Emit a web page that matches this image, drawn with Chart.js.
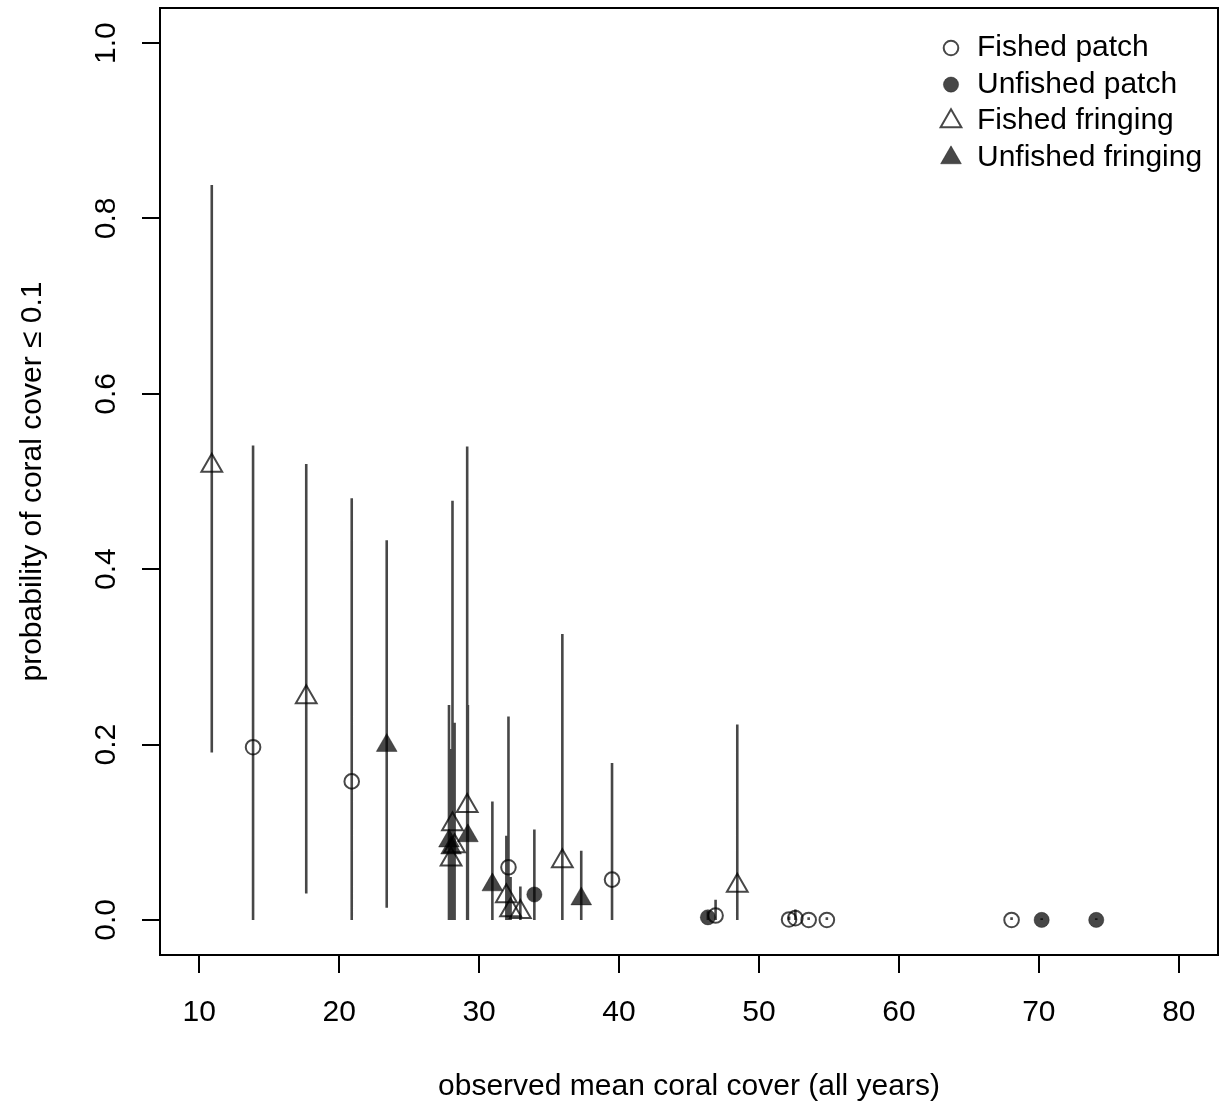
<!DOCTYPE html>
<html>
<head>
<meta charset="utf-8">
<title>Coral cover probability</title>
<script src="https://cdn.jsdelivr.net/npm/chart.js@4.4.1/dist/chart.umd.min.js"></script>
<style>
    html, body { margin: 0; padding: 0; background: #fff; }
    #wrap { width: 1221px; height: 1107px; }
</style>
</head>
<body>
<div id="wrap"><canvas id="coverChart" width="1221" height="1107"></canvas></div>
<script>
// Axis ticks
const xTicks = [10, 20, 30, 40, 50, 60, 70, 80];
const yTicks = [0, 0.2, 0.4, 0.6, 0.8, 1];

// Fished patch reefs: mean cover, probability, interval low / high
const fpCover = [13.85, 20.9, 32.1, 39.5, 46.9, 52.15, 52.6, 53.55, 54.85, 68.05];
const fpProb  = [0.197, 0.158, 0.060, 0.046, 0.005, 0.0005, 0.002, 0.0, 0.0, 0.0];
const fpLow   = [0, 0, 0, 0, 0, 0, 0, 0, 0, 0];
const fpHigh  = [0.541, 0.481, 0.232, 0.179, 0.023, 0.004, 0.012, 0.003, 0.003, 0.003];

// Unfished patch reefs
const upCover = [33.95, 46.35, 70.2, 74.1];
const upProb  = [0.029, 0.003, 0.0, 0.0];
const upLow   = [0, 0, 0, 0];
const upHigh  = [0.103, 0.010, 0.002, 0.002];

// Fished fringing reefs
const ffCover = [10.9, 17.65, 28.1, 28.25, 28.0, 29.15, 31.95, 32.25, 32.95, 35.95, 48.45];
const ffProb  = [0.518, 0.254, 0.109, 0.084, 0.069, 0.130, 0.027, 0.011, 0.009, 0.067, 0.039];
const ffLow   = [0.191, 0.030, 0, 0, 0, 0, 0, 0, 0, 0, 0];
const ffHigh  = [0.838, 0.520, 0.478, 0.225, 0.145, 0.540, 0.096, 0.049, 0.038, 0.326, 0.223];

// Unfished fringing reefs
const ufCover = [23.4, 27.85, 28.0, 29.2, 30.95, 37.3];
const ufProb  = [0.199, 0.090, 0.082, 0.096, 0.040, 0.024];
const ufLow   = [0.014, 0, 0, 0, 0, 0];
const ufHigh  = [0.433, 0.245, 0.195, 0.245, 0.135, 0.079];

const FONT = '"Liberation Sans", Arial, Helvetica, sans-serif';
const INK = 'rgba(0, 0, 0, 0.72)';
const CIRCLE_R = 7.3;
const TRIANGLE_R = 12;

function toPoints(xs, ys) {
    return xs.map((x, i) => ({ x: x, y: ys[i] }));
}

// vertical interval segments, separated by gaps so the line breaks
function intervalPoints() {
    const groups = [
        [fpCover, fpLow, fpHigh],
        [upCover, upLow, upHigh],
        [ffCover, ffLow, ffHigh],
        [ufCover, ufLow, ufHigh]
    ];
    const pts = [];
    groups.forEach(([xs, lo, hi]) => {
        xs.forEach((x, i) => {
            pts.push({ x: x, y: lo[i] });
            pts.push({ x: x, y: hi[i] });
            pts.push({ x: x, y: null });
        });
    });
    return pts;
}

function markerSet(label, xs, ys, style, filled) {
    const r = style === 'circle' ? CIRCLE_R : TRIANGLE_R;
    return {
        type: 'scatter',
        label: label,
        data: toPoints(xs, ys),
        pointStyle: style,
        pointRadius: filled && style === 'circle' ? CIRCLE_R + 0.3 : r,
        pointBorderWidth: filled ? 0.5 : 2,
        borderColor: INK,
        backgroundColor: filled ? INK : 'rgba(0, 0, 0, 0)',
        order: 1
    };
}

const datasets = [
    markerSet('Fished patch', fpCover, fpProb, 'circle', false),
    markerSet('Unfished patch', upCover, upProb, 'circle', true),
    markerSet('Fished fringing', ffCover, ffProb, 'triangle', false),
    markerSet('Unfished fringing', ufCover, ufProb, 'triangle', true),
    {
        type: 'line',
        label: 'interval',
        data: intervalPoints(),
        borderColor: INK,
        borderWidth: 2.6,
        pointRadius: 0,
        spanGaps: false,
        fill: false,
        order: 2
    }
];

// Frame around the plotting region
const frameBox = {
    id: 'frameBox',
    afterDraw(chart) {
        const { ctx, chartArea } = chart;
        ctx.save();
        ctx.strokeStyle = '#000';
        ctx.lineWidth = 2;
        ctx.strokeRect(chartArea.left, chartArea.top,
            chartArea.right - chartArea.left, chartArea.bottom - chartArea.top);
        ctx.restore();
    }
};

// Legend in the top-right corner, no box
const cornerLegend = {
    id: 'cornerLegend',
    afterDraw(chart) {
        const { ctx, chartArea } = chart;
        const mx = chartArea.right - 267;
        const tx = chartArea.right - 241;
        ctx.save();
        ctx.font = '30px ' + FONT;
        ctx.textBaseline = 'middle';
        chart.data.datasets.filter(d => d.type === 'scatter').forEach((ds, i) => {
            const y = chartArea.top + 40 + i * 36.6;
            ctx.fillStyle = ds.backgroundColor;
            ctx.strokeStyle = ds.borderColor;
            ctx.lineWidth = ds.pointBorderWidth;
            Chart.helpers.drawPoint(ctx, {
                pointStyle: ds.pointStyle,
                radius: ds.pointRadius,
                rotation: 0,
                borderWidth: ds.pointBorderWidth
            }, mx, y);
            ctx.fillStyle = '#000';
            ctx.fillText(ds.label, tx, y);
        });
        ctx.restore();
    }
};

const ctx = document.getElementById('coverChart');

new Chart(ctx, {
    type: 'scatter',
    data: { datasets: datasets },
    options: {
        responsive: false,
        animation: false,
        devicePixelRatio: 1,
        layout: {
            autoPadding: false,
            padding: { top: 8, right: 3, bottom: 0, left: 0 }
        },
        plugins: {
            legend: { display: false },
            tooltip: { enabled: false }
        },
        scales: {
            x: {
                type: 'linear',
                min: 7.2,
                max: 82.8,
                afterBuildTicks: scale => {
                    scale.ticks = xTicks.map(v => ({ value: v }));
                },
                afterFit: scale => {
                    scale.height = 152;
                    scale.paddingLeft = 0;
                    scale.paddingRight = 0;
                },
                border: { display: false },
                grid: {
                    drawOnChartArea: false,
                    drawTicks: true,
                    tickLength: 18,
                    color: '#000',
                    lineWidth: 2
                },
                ticks: {
                    color: '#000',
                    font: { family: FONT, size: 30 },
                    padding: 22,
                    maxRotation: 0,
                    autoSkip: false,
                    callback: v => String(v)
                },
                title: {
                    display: true,
                    text: 'observed mean coral cover (all years)',
                    color: '#000',
                    font: { family: FONT, size: 30 },
                    padding: { top: 0, bottom: 2 }
                }
            },
            y: {
                type: 'linear',
                min: -0.04,
                max: 1.04,
                afterBuildTicks: scale => {
                    scale.ticks = yTicks.map(v => ({ value: v }));
                },
                afterFit: scale => {
                    scale.width = 160;
                    scale.paddingTop = 0;
                    scale.paddingBottom = 0;
                },
                border: { display: false },
                grid: {
                    drawOnChartArea: false,
                    drawTicks: true,
                    tickLength: 18,
                    color: '#000',
                    lineWidth: 2
                },
                ticks: {
                    color: '#000',
                    font: { family: FONT, size: 30 },
                    padding: 14,
                    minRotation: 90,
                    maxRotation: 90,
                    crossAlign: 'center',
                    autoSkip: false,
                    callback: v => v.toFixed(1)
                },
                title: {
                    display: true,
                    text: 'probability of coral cover \u2264 0.1',
                    color: '#000',
                    font: { family: FONT, size: 30 },
                    padding: { top: 15, bottom: 0 }
                }
            }
        }
    },
    plugins: [frameBox, cornerLegend]
});
</script>
</body>
</html>
